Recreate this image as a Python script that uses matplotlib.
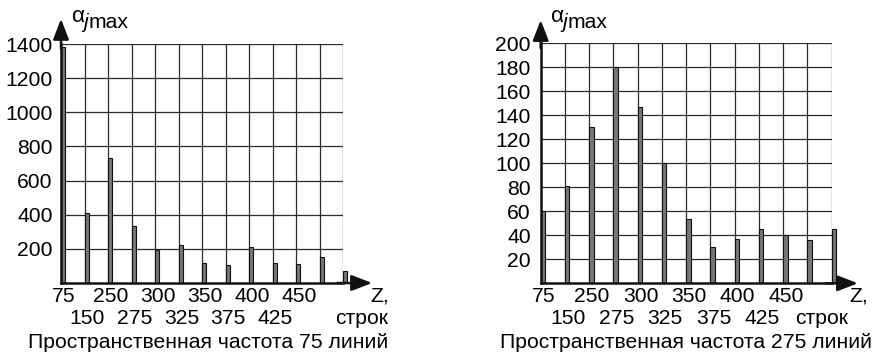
import matplotlib
matplotlib.use("Agg")
import matplotlib.pyplot as plt
import numpy as np

plt.rcParams['font.family'] = ['Liberation Sans', 'DejaVu Sans']

# ---- data ----
z_labels = ["75", "150", "250", "275", "300", "325", "350", "375", "400", "425", "450"]
left_values = [1380, 410, 735, 335, 195, 222, 115, 105, 210, 118, 112, 155, 68]
right_values = [60, 81, 130, 180, 147, 100, 54, 30, 37, 45, 40, 36, 45]
left_yticks = [200, 400, 600, 800, 1000, 1200, 1400]
right_yticks = [20, 40, 60, 80, 100, 120, 140, 160, 180, 200]
left_title = "Пространственная частота 75 линий"
right_title = "Пространственная частота 275 линий"
y_label = ("α", "j", "max")
x_label = ("Z,", "строк")

W, H = 875, 356
fig = plt.figure(figsize=(W / 100, H / 100), dpi=100)


def fx(x):
    return x / W


def fy(y):
    return 1 - y / H


FS = 15.2
ARROW = '-|>,head_length=0.62,head_width=0.24'


def panel(rect_px, values, yticks, ymax, title, title_x, ypad, arrow_ext):
    x0, y0, x1, y1 = rect_px  # left, top, right, bottom in px
    ax = fig.add_axes([fx(x0), fy(y1), fx(x1 - x0), (y1 - y0) / H])
    n = len(values)
    pos = np.arange(n)
    ax.set_xlim(0, n - 1)
    ax.set_ylim(0, ymax)
    # grid
    for yv in yticks:
        ax.axhline(yv, color='#2a2a2a', lw=0.9, zorder=1)
    for xv in pos:
        ax.axvline(xv, color='#2a2a2a', lw=0.9, zorder=1)
    ax.bar(pos, values, width=0.18, align='edge', color='#767676',
           edgecolor='#111111', linewidth=0.8, zorder=3, clip_on=False)
    for s in ['top', 'right']:
        ax.spines[s].set_visible(False)
    for s in ['left', 'bottom']:
        ax.spines[s].set_linewidth(1.8)
        ax.spines[s].set_color('#111111')
        ax.spines[s].set_zorder(4)
    ax.set_yticks(yticks)
    ax.set_yticklabels([str(v) for v in yticks], fontsize=FS)
    ax.tick_params(axis='y', length=0, pad=ypad)
    ax.set_xticks([])
    # x labels in two rows
    tr = ax.get_xaxis_transform()
    for i, lab in enumerate(z_labels):
        yrow = -13 / (y1 - y0) if i % 2 == 0 else -35 / (y1 - y0)
        ax.text(i + 0.12, yrow, lab, transform=tr, ha='center', va='center',
                fontsize=FS)
    # arrows
    ax.annotate('', xy=(arrow_ext[0], 0), xytext=(0.98, 0), xycoords='axes fraction',
                arrowprops=dict(arrowstyle=ARROW, color='#111111', lw=1.8,
                                shrinkA=0, shrinkB=0, mutation_scale=20),
                annotation_clip=False)
    ax.annotate('', xy=(0, arrow_ext[1]), xytext=(0, 0.98), xycoords='axes fraction',
                arrowprops=dict(arrowstyle=ARROW, color='#111111', lw=1.8,
                                shrinkA=0, shrinkB=0, mutation_scale=20),
                annotation_clip=False)
    fig.text(fx(title_x), fy(343), title, ha='center', va='center', fontsize=FS)
    return ax


panel((61, 44, 343, 283), left_values, left_yticks, 1400, left_title, 208, 6, (1.103, 1.105))
panel((540.7, 43.3, 831.7, 283.3), right_values, right_yticks, 200, right_title, 686, 7, (1.09, 1.097))

# axis labels
for ax_x, zx, sx in [(72, 380, 362), (551, 859, 822)]:
    fig.text(fx(ax_x), fy(17), y_label[0], ha='left', va='center', fontsize=FS + 1)
    fig.text(fx(ax_x + 11.5), fy(22), y_label[1], ha='left', va='center', fontsize=FS,
             style='italic')
    fig.text(fx(ax_x + 17), fy(22), y_label[2], ha='left', va='center', fontsize=FS)
    fig.text(fx(zx), fy(296), x_label[0], ha='center', va='center', fontsize=FS)
    fig.text(fx(sx), fy(318), x_label[1], ha='center', va='center', fontsize=FS)

fig.savefig("out.png", dpi=100)
